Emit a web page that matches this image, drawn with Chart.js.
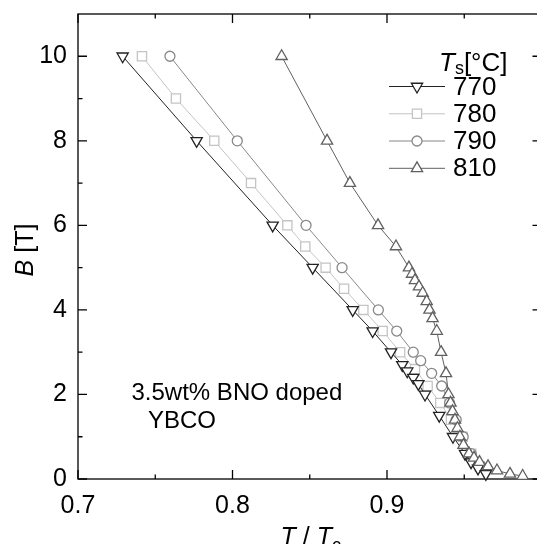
<!DOCTYPE html>
<html>
<head>
<meta charset="utf-8">
<script src="https://cdn.jsdelivr.net/npm/chart.js@4.4.1/dist/chart.umd.min.js"></script>
<style>
  html, body { margin: 0; padding: 0; overflow: hidden; background: #fff; }
  #wrap { width: 560px; height: 544px; }
</style>
</head>
<body>
<div id="wrap"><canvas id="chart" width="560" height="544"></canvas></div>
<script>
// T/Tc and B [T] for each sintering temperature
const t770 = [0.7289, 0.7768, 0.8260, 0.8519, 0.8778, 0.8907, 0.9026, 0.9099, 0.9131, 0.9170, 0.9203, 0.9246, 0.9338, 0.9427, 0.9505, 0.9544, 0.9589, 0.9640];
const b770 = [10, 8, 6, 5, 4, 3.5, 3.0, 2.7, 2.55, 2.4, 2.25, 2.0, 1.5, 1.0, 0.6, 0.4, 0.25, 0.12];

const t780 = [0.7414, 0.7634, 0.7882, 0.8120, 0.8355, 0.8471, 0.8603, 0.8722, 0.8847, 0.8972, 0.9085, 0.9181, 0.9263, 0.9345, 0.9414, 0.9490, 0.9545, 0.9600];
const b780 = [10, 9, 8, 7, 6, 5.5, 5, 4.5, 4, 3.5, 3.0, 2.6, 2.2, 1.8, 1.4, 1.0, 0.6, 0.3];

const t790 = [0.7595, 0.8031, 0.8476, 0.8709, 0.8944, 0.9063, 0.9170, 0.9218, 0.9289, 0.9354, 0.9405, 0.9448, 0.9493, 0.9545, 0.9610];
const b790 = [10, 8, 6, 5, 4, 3.5, 3.0, 2.8, 2.5, 2.2, 1.8, 1.4, 1.0, 0.6, 0.3];

const t810 = [0.8318, 0.8612, 0.8760, 0.8942, 0.9058, 0.9142, 0.9162, 0.9181, 0.9207, 0.9231, 0.9257, 0.9275, 0.9295, 0.9322, 0.9350, 0.9382, 0.9398, 0.9411, 0.9424, 0.9440, 0.9456, 0.9472, 0.9495, 0.9531, 0.9563, 0.9599, 0.9654, 0.9712, 0.9796, 0.9878];
const b810 = [10, 8, 7, 6, 5.5, 5.0, 4.85, 4.7, 4.55, 4.4, 4.2, 4.0, 3.8, 3.5, 3.0, 2.5, 2.0, 1.8, 1.6, 1.4, 1.2, 1.0, 0.8, 0.6, 0.5, 0.4, 0.3, 0.2, 0.12, 0.07];

const seriesNames = ["770", "780", "790", "810"];
const xLabelTicks = [0.7, 0.8, 0.9];
const xMajor = [0.7, 0.8, 0.9, 1.0];
const xMinor = [0.75, 0.85, 0.95];
const yMajor = [0, 2, 4, 6, 8, 10];
const yMinor = [1, 3, 5, 7, 9];

const FONT = "'Liberation Sans', Arial, sans-serif";

function pts(xs, ys) {
  return xs.map((x, i) => ({ x: x, y: ys[i] }));
}

function series(label, xs, ys, color, style, rot, radius, order) {
  return {
    label: label,
    data: pts(xs, ys),
    showLine: true,
    borderColor: color,
    borderWidth: 1,
    pointStyle: style,
    pointRotation: rot,
    pointRadius: radius,
    pointHoverRadius: radius,
    pointBorderWidth: 1.3,
    pointBorderColor: color,
    pointBackgroundColor: "#fff",
    clip: false,
    order: order
  };
}

const datasets = [
  series("770", t770, b770, "#222222", "triangle", 180, 6.5, 1),
  series("780", t780, b780, "#c4c4c4", "rect", 0, 6.5, 3),
  series("790", t790, b790, "#888888", "circle", 0, 5, 2),
  series("810", t810, b810, "#606060", "triangle", 0, 6.5, 0)
];

// box frame with inward ticks, titles, legend, note
const framePlugin = {
  id: "frame",
  beforeDatasetsDraw(chart) {
    const { ctx, chartArea: a, scales: { x, y } } = chart;
    ctx.save();
    ctx.strokeStyle = "#000";
    ctx.lineWidth = 1.3;
    ctx.strokeRect(a.left, a.top, a.right - a.left, a.bottom - a.top);
    ctx.beginPath();
    const tx = (v, len) => {
      const p = x.getPixelForValue(v);
      ctx.moveTo(p, a.bottom); ctx.lineTo(p, a.bottom - len);
      ctx.moveTo(p, a.top); ctx.lineTo(p, a.top + len);
    };
    const ty = (v, len) => {
      const p = y.getPixelForValue(v);
      ctx.moveTo(a.left, p); ctx.lineTo(a.left + len, p);
      ctx.moveTo(a.right, p); ctx.lineTo(a.right - len, p);
    };
    xMajor.forEach(v => tx(v, 9));
    xMinor.forEach(v => tx(v, 4.5));
    yMajor.forEach(v => ty(v, 9));
    yMinor.forEach(v => ty(v, 4.5));
    ctx.stroke();
    ctx.restore();
  },
  afterDraw(chart) {
    const { ctx, chartArea: a } = chart;
    ctx.save();
    ctx.fillStyle = "#000";
    ctx.textBaseline = "alphabetic";

    // x title: T / Tc
    const cx = (a.left + a.right) / 2 + 1;
    ctx.font = "italic 25px " + FONT;
    const wT = ctx.measureText("T").width;
    ctx.font = "25px " + FONT;
    const wS = ctx.measureText(" / ").width;
    ctx.font = "18px " + FONT;
    const wc = ctx.measureText("c").width;
    let xx = cx - (2 * wT + wS + wc) / 2;
    const by = 545;
    ctx.font = "italic 25px " + FONT; ctx.fillText("T", xx, by); xx += wT;
    ctx.font = "25px " + FONT; ctx.fillText(" / ", xx, by); xx += wS;
    ctx.font = "italic 25px " + FONT; ctx.fillText("T", xx, by); xx += wT;
    ctx.font = "18px " + FONT; ctx.fillText("c", xx, by + 6);

    // y title: B [T]
    ctx.save();
    ctx.translate(33, 250);
    ctx.rotate(-Math.PI / 2);
    ctx.font = "italic 25px " + FONT;
    const wB = ctx.measureText("B").width;
    ctx.font = "25px " + FONT;
    const wR = ctx.measureText(" [T]").width;
    const yx = -(wB + wR) / 2;
    ctx.font = "italic 25px " + FONT; ctx.fillText("B", yx, 0);
    ctx.font = "25px " + FONT; ctx.fillText(" [T]", yx + wB, 0);
    ctx.restore();

    // annotation
    ctx.font = "24px " + FONT;
    ctx.fillText("3.5wt% BNO doped", 131.5, 400);
    ctx.fillText("YBCO", 148, 427.5);

    // legend
    let lx = 439;
    ctx.font = "italic 26px " + FONT; ctx.fillText("T", lx, 71); lx += ctx.measureText("T").width;
    ctx.font = "18px " + FONT; ctx.fillText("s", lx, 74); lx += ctx.measureText("s").width;
    ctx.font = "26px " + FONT; ctx.fillText("[°C]", lx, 71);

    const rows = [86.5, 113.8, 141, 168.3];
    chart.data.datasets.forEach((ds, i) => {
      const yy = rows[i];
      ctx.strokeStyle = ds.borderColor;
      ctx.lineWidth = 1;
      ctx.beginPath();
      ctx.moveTo(389, yy); ctx.lineTo(445, yy);
      ctx.stroke();
      ctx.fillStyle = "#fff";
      ctx.strokeStyle = ds.pointBorderColor;
      ctx.lineWidth = ds.pointBorderWidth;
      Chart.helpers.drawPoint(ctx, {
        pointStyle: ds.pointStyle, rotation: ds.pointRotation,
        radius: ds.pointRadius, borderWidth: ds.pointBorderWidth
      }, 417, yy);
      ctx.fillStyle = "#000";
      ctx.font = "26px " + FONT;
      ctx.textBaseline = "middle";
      ctx.fillText(seriesNames[i], 453, yy + 1);
      ctx.textBaseline = "alphabetic";
    });
    ctx.restore();
  }
};

new Chart(document.getElementById("chart"), {
  type: "scatter",
  data: { datasets: datasets },
  options: {
    responsive: false,
    animation: false,
    events: [],
    layout: { padding: { top: 14, right: 18.5, bottom: 0, left: 0 } },
    plugins: { legend: { display: false }, tooltip: { enabled: false } },
    scales: {
      x: {
        type: "linear",
        min: 0.7,
        max: 1.0,
        grid: { display: false, drawTicks: false },
        border: { display: false },
        afterBuildTicks: s => { s.ticks = xLabelTicks.map(v => ({ value: v })); },
        afterFit: s => { s.height = 65; },
        ticks: {
          padding: 15,
          color: "#000",
          font: { family: FONT, size: 25, lineHeight: 1 },
          callback: v => v.toFixed(1)
        }
      },
      y: {
        type: "linear",
        min: 0,
        max: 11,
        grid: { display: false, drawTicks: false },
        border: { display: false },
        afterBuildTicks: s => { s.ticks = yMajor.map(v => ({ value: v })); },
        afterFit: s => { s.width = 78; },
        ticks: {
          padding: 11,
          color: "#000",
          font: { family: FONT, size: 25, lineHeight: 0.1 },
          callback: v => String(v)
        }
      }
    }
  },
  plugins: [framePlugin]
});
</script>
</body>
</html>
